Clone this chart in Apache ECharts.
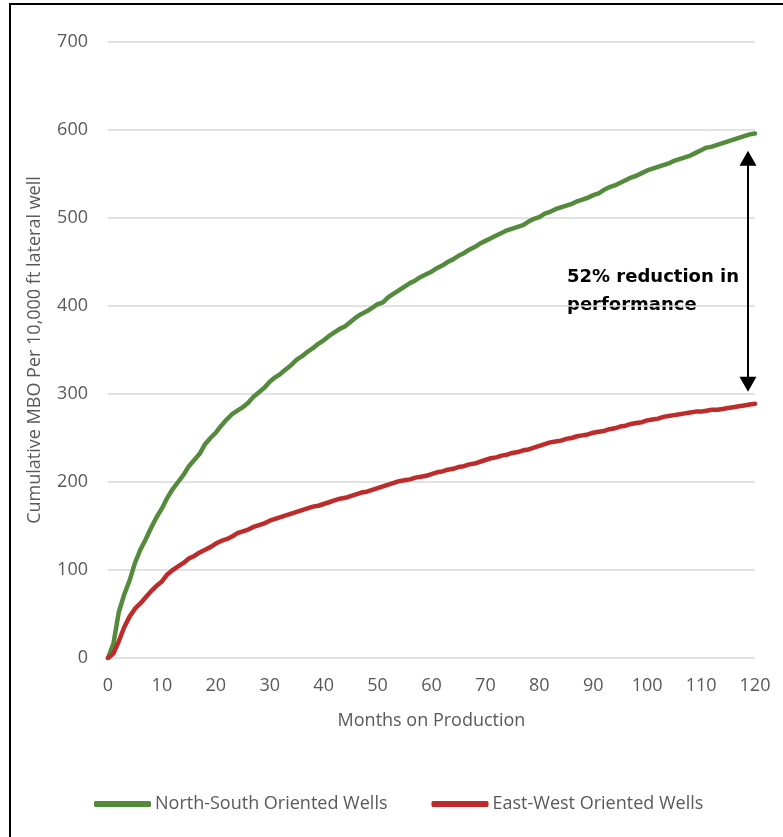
<!DOCTYPE html>
<html>
<head>
<meta charset="utf-8">
<script src="https://cdn.jsdelivr.net/npm/echarts@6/dist/echarts.min.js"></script>
<style>
  html, body { margin: 0; padding: 0; background: #fff; }
  #chart { width: 783px; height: 837px; }
</style>
</head>
<body>
<div id="chart"></div>
<script>
"use strict";

// months on production, 0..120
var months = [];
for (var m = 0; m <= 120; m++) months.push(m);

// cumulative MBO per 10,000 ft lateral
var northSouth = [
  0, 16, 52, 72, 88, 108, 123, 135, 148, 160,
  170, 182, 192, 200, 208, 218, 225, 232, 243, 250,
  256, 264, 271, 277, 281, 285, 290, 297, 302, 307,
  314, 319, 323, 328, 333, 339, 343, 348, 352, 357,
  361, 366, 370, 374, 377, 382, 387, 391, 394, 398,
  402, 404, 410, 414, 418, 422, 426, 429, 433, 436,
  439, 443, 446, 450, 453, 457, 460, 464, 467, 471,
  474, 477, 480, 483, 486, 488, 490, 492, 496, 499,
  501, 505, 507, 510, 512, 514, 516, 519, 521, 523,
  526, 528, 532, 535, 537, 540, 543, 546, 548, 551,
  554, 556, 558, 560, 562, 565, 567, 569, 571, 574,
  577, 580, 581, 583, 585, 587, 589, 591, 593, 595,
  596
];
var eastWest = [
  0, 5, 19, 35, 47, 56, 62, 69, 76, 82,
  87, 95, 100, 104, 108, 113, 116, 120, 123, 126,
  130, 133, 135, 138, 142, 144, 146, 149, 151, 153,
  156, 158, 160, 162, 164, 166, 168, 170, 172, 173,
  175, 177, 179, 181, 182, 184, 186, 188, 189, 191,
  193, 195, 197, 199, 201, 202, 203, 205, 206, 207,
  209, 211, 212, 214, 215, 217, 218, 220, 221, 223,
  225, 227, 228, 230, 231, 233, 234, 236, 237, 239,
  241, 243, 245, 246, 247, 249, 250, 252, 253, 254,
  256, 257, 258, 260, 261, 263, 264, 266, 267, 268,
  270, 271, 272, 274, 275, 276, 277, 278, 279, 280,
  280, 281, 282, 282, 283, 284, 285, 286, 287, 288,
  289
];
var seriesNames = ["North-South Oriented Wells", "East-West Oriented Wells"];
// double-headed arrow between the two curves (symbol centres)
var arrowFrom = [118.7, 568];
var arrowTo = [118.7, 311];

function pairs(ys) {
  return ys.map(function (v, i) { return [months[i], v]; });
}

var font = "'Open Sans', 'Liberation Sans', sans-serif";
var grey = "#595959";

var myChart = echarts.init(document.getElementById("chart"));
var option = {
  animation: false,
  grid: { left: 108, right: 28, top: 42, bottom: 179 },
  legend: {
    left: 89,
    top: 790,
    icon: "roundRect",
    itemWidth: 57,
    itemHeight: 6,
    itemGap: 44,
    textStyle: { color: grey, fontSize: 18, fontFamily: font, padding: [0, 0, 0, -1] },
    data: seriesNames
  },
  xAxis: {
    type: "value",
    min: 0,
    max: 120,
    interval: 10,
    name: "Months on Production",
    nameLocation: "middle",
    nameGap: 54,
    nameTextStyle: { color: grey, fontSize: 18, fontFamily: font },
    axisLine: { show: false },
    axisTick: { show: false },
    splitLine: { show: false },
    axisLabel: { color: grey, fontSize: 18, fontFamily: font, margin: 19 }
  },
  yAxis: {
    type: "value",
    min: 0,
    max: 700,
    interval: 100,
    name: "Cumulative MBO Per 10,000 ft lateral well",
    nameLocation: "middle",
    nameGap: 64,
    nameTextStyle: { color: grey, fontSize: 18, fontFamily: font },
    axisLine: { show: false },
    axisTick: { show: false },
    splitLine: { lineStyle: { color: "#d9d9d9", width: 1.5 } },
    axisLabel: { color: grey, fontSize: 18, fontFamily: font, margin: 20 }
  },
  series: [
    {
      name: seriesNames[0],
      type: "line",
      data: pairs(northSouth),
      symbol: "none",
      color: "#548a3c",
      lineStyle: { width: 4.5, color: "#548a3c", cap: "round", join: "round" },
      markLine: {
        silent: true,
        symbol: ["triangle", "triangle"],
        symbolSize: [17, 15],
        label: { show: false },
        lineStyle: { color: "#000", width: 2, type: "solid" },
        itemStyle: { color: "#000" },
        data: [[{ coord: arrowFrom }, { coord: arrowTo }]]
      }
    },
    {
      name: seriesNames[1],
      type: "line",
      data: pairs(eastWest),
      symbol: "none",
      color: "#bd2b2b",
      lineStyle: { width: 4.5, color: "#bd2b2b", cap: "round", join: "round" }
    }
  ],
  graphic: [
    // frame: only the left and top edges show in the original
    {
      type: "polyline",
      shape: { points: [[10, 837], [10, 4], [783, 4]] },
      style: { fill: null, stroke: "#000", lineWidth: 2 },
      silent: true
    },
    {
      type: "text",
      left: 567,
      top: 263,
      style: {
        text: "52% reduction in\nperformance",
        fill: "#000",
        font: "bold 18px 'DejaVu Sans', sans-serif",
        lineHeight: 28
      }
    }
  ]
};
myChart.setOption(option);
</script>
</body>
</html>
